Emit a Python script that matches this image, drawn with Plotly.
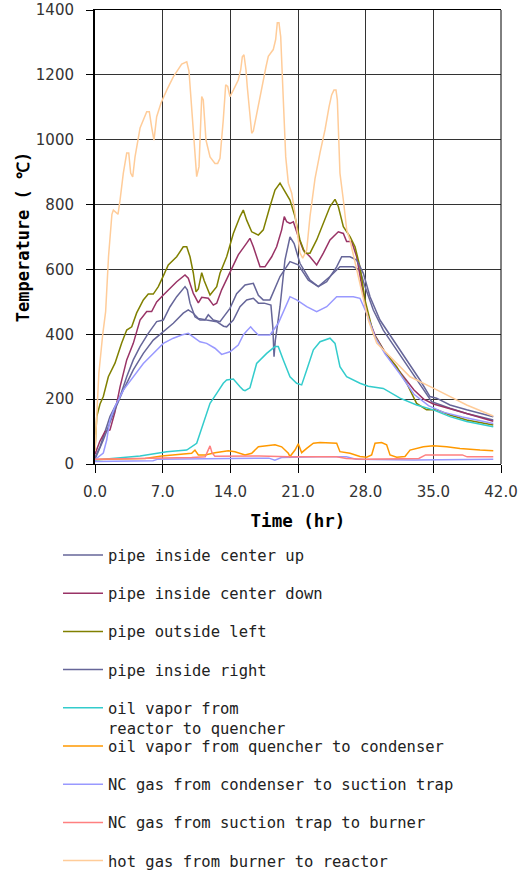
import plotly.graph_objects as go

# ---- data (time in hr, temperature in degC) ----
pipe_center_up = [(0, 20), (0.52, 53), (1.55, 146), (2.59, 208), (3.28, 269), (3.96, 321), (4.66, 362),
                  (5.51, 403), (6.38, 439), (7.07, 444), (7.76, 485), (8.45, 516), (9.31, 547), (9.55, 537),
                  (9.83, 496), (10.34, 454), (10.86, 444), (11.38, 444), (11.72, 460), (12.24, 444),
                  (12.93, 439), (13.96, 480), (14.65, 525), (15.52, 552), (16.38, 557), (16.9, 520),
                  (17.4, 506), (18.1, 506), (19.14, 578), (20.17, 624), (21.03, 614), (22.07, 567),
                  (23.1, 547), (24.31, 578), (25.34, 608), (26.72, 608), (27.41, 598), (27.93, 547),
                  (28.79, 475), (29.82, 413), (31.2, 352), (32.59, 290), (33.97, 228), (34.83, 192),
                  (36.72, 172), (38.45, 156), (41.2, 136)]

pipe_center_down = [(0, 30), (0.5, 70), (1.03, 100), (1.55, 105), (2.07, 161), (2.59, 238), (3.28, 321),
                    (3.96, 372), (4.66, 444), (5.35, 470), (5.86, 470), (6.38, 500), (7.07, 521), (7.76, 542),
                    (8.45, 562), (9.31, 583), (9.65, 573), (10.17, 526), (10.69, 497), (11.04, 514),
                    (11.72, 511), (12.24, 490), (12.59, 496), (13.1, 537), (13.96, 590), (14.82, 645),
                    (15.69, 681), (16.03, 696), (16.38, 670), (17.07, 608), (17.58, 608), (18.28, 639),
                    (18.79, 670), (19.31, 722), (19.58, 763), (19.83, 747), (20.17, 742), (20.52, 747),
                    (21.03, 701), (21.55, 660), (22.24, 639), (22.93, 614), (23.62, 650), (24.31, 691),
                    (25.17, 716), (25.69, 711), (26.03, 686), (26.55, 686), (27.07, 639), (27.59, 557),
                    (28.1, 465), (29.0, 395), (30.0, 345), (31.0, 305), (32.0, 265), (33.0, 228),
                    (34.0, 200), (35.0, 185), (37.0, 168), (39.0, 150), (41.2, 132)]

pipe_outside_left = [(0, 43), (0.18, 146), (0.52, 185), (0.86, 208), (1.38, 269), (2.07, 311), (2.76, 373),
                     (3.28, 413), (3.8, 423), (4.31, 466), (5.0, 506), (5.51, 524), (6.03, 524), (6.55, 547),
                     (7.07, 580), (7.58, 614), (8.45, 639), (9.13, 670), (9.49, 670), (9.83, 639),
                     (10.17, 589), (10.45, 531), (10.69, 540), (11.04, 590), (11.3, 565), (11.9, 521),
                     (12.59, 547), (12.93, 588), (13.62, 639), (14.31, 711), (15.0, 763), (15.34, 783),
                     (15.69, 752), (16.21, 716), (16.9, 706), (17.41, 722), (18.1, 794), (18.62, 845),
                     (19.14, 866), (19.65, 840), (20.17, 814), (20.69, 763), (21.2, 691), (21.72, 650),
                     (22.24, 650), (22.93, 691), (23.62, 742), (24.31, 794), (24.83, 816), (25.17, 794),
                     (25.69, 732), (26.38, 701), (26.9, 670), (27.41, 608), (27.93, 506), (28.79, 403),
                     (29.82, 352), (31.2, 300), (32.24, 249), (33.27, 187), (34.3, 167), (35.34, 167),
                     (36.72, 151), (38.45, 136), (41.2, 120)]

pipe_inside_right = [(0, 15), (0.86, 74), (1.9, 156), (2.93, 228), (3.96, 290), (5.0, 341), (6.03, 382),
                     (7.07, 408), (8.1, 434), (9.13, 465), (9.65, 475), (10.17, 465), (10.69, 449),
                     (11.55, 444), (12.59, 439), (13.3, 425), (13.62, 423), (14.31, 444), (15.0, 485),
                     (15.69, 506), (16.38, 511), (16.9, 496), (17.5, 496), (18.2, 490), (18.4, 420),
                     (18.52, 331), (18.65, 380), (19.14, 485), (19.65, 629), (20.17, 700), (20.6, 680),
                     (21.2, 619), (22.24, 567), (23.1, 547), (23.97, 562), (25.0, 608), (25.52, 639),
                     (26.38, 639), (27.07, 629), (27.76, 588), (28.45, 516), (29.48, 444), (30.86, 382),
                     (32.24, 321), (33.62, 259), (34.65, 208), (35.34, 203), (36.72, 182), (38.45, 167),
                     (41.2, 146)]

oil_reactor_quencher = [(0, 12), (4.66, 25), (7.42, 38), (9.49, 43), (10.52, 64), (11.2, 125), (11.9, 187),
                        (12.59, 218), (13.27, 249), (13.62, 259), (14.31, 262), (15.0, 238), (15.34, 228),
                        (15.52, 226), (16.03, 235), (16.72, 310), (17.76, 341), (18.62, 362), (18.96, 362),
                        (19.48, 321), (20.17, 269), (20.86, 249), (21.38, 244), (21.9, 290), (22.59, 352),
                        (23.28, 377), (24.31, 388), (24.83, 372), (25.34, 300), (26.03, 269), (27.41, 249),
                        (28.27, 240), (29.82, 233), (31.55, 203), (33.27, 182), (35.0, 167), (36.72, 146),
                        (38.45, 131), (41.2, 115)]

oil_quencher_condenser = [(0, 14), (5.17, 17), (6.9, 25), (8.97, 31), (10.0, 33), (10.34, 43), (10.69, 28),
                          (11.38, 28), (12.41, 35), (13.79, 41), (14.48, 38), (15.52, 28), (16.21, 33),
                          (16.9, 53), (18.62, 59), (19.31, 53), (20.0, 33), (20.17, 23), (20.69, 43),
                          (21.03, 62), (21.38, 35), (21.9, 48), (22.59, 64), (23.28, 66), (25.0, 64),
                          (25.34, 38), (26.38, 33), (27.41, 23), (28.1, 21), (28.62, 28), (28.97, 64),
                          (29.65, 66), (30.17, 59), (30.52, 28), (31.21, 21), (32.07, 23), (32.59, 43),
                          (33.97, 53), (35.0, 56), (36.38, 53), (37.76, 48), (39.83, 43), (41.2, 41)]

nc_condenser_trap = [(0, 10), (0.18, 18), (0.86, 34), (1.21, 74), (1.55, 136), (2.07, 177), (2.93, 228),
                     (3.96, 269), (5.0, 310), (6.03, 341), (7.07, 372), (8.1, 388), (8.97, 398), (9.65, 403),
                     (10.17, 393), (10.86, 377), (11.55, 372), (12.41, 357), (13.1, 338), (13.96, 346),
                     (14.82, 367), (15.34, 398), (15.69, 410), (16.1, 423), (16.38, 413), (16.9, 398),
                     (17.41, 398), (18.1, 398), (18.96, 434), (19.83, 496), (20.17, 516), (20.86, 506),
                     (21.9, 485), (22.93, 470), (23.97, 485), (25.0, 516), (26.72, 516), (27.41, 511),
                     (28.1, 465), (29.0, 390), (30.0, 340), (31.5, 280), (33.0, 215), (34.5, 180),
                     (36.0, 160), (38.0, 145), (41.2, 125)]

nc_condenser_trap_low = [(0, 8), (6.0, 10), (6.5, 15), (18.0, 18), (18.6, 12), (19.3, 20), (23.0, 22),
                         (26.0, 22), (27.0, 15), (33.0, 12), (41.2, 15)]

nc_trap_burner = [(0, 15), (5, 17), (10, 20), (11.4, 22), (11.75, 50), (11.9, 56), (12.1, 35), (12.4, 24),
                  (17, 25), (20, 22), (25, 22), (26, 17), (28, 15), (33.5, 17), (34.2, 28), (38, 28),
                  (38.5, 22), (41.2, 22)]

hot_gas = [(0, 40), (0.15, 150), (0.4, 280), (0.8, 400), (1.1, 470), (1.4, 640), (1.75, 770), (1.9, 783),
           (2.38, 770), (2.59, 814), (2.93, 897), (3.28, 959), (3.49, 959), (3.69, 897), (3.9, 885),
           (4.14, 947), (4.66, 1036), (5.35, 1086), (5.62, 1086), (5.86, 1039), (6.1, 999), (6.38, 1071),
           (6.83, 1113), (7.42, 1153), (8.1, 1194), (8.97, 1233), (9.49, 1240), (9.72, 1212), (10.1, 1061),
           (10.34, 947), (10.52, 886), (10.76, 917), (10.93, 1092), (11.04, 1133), (11.2, 1123),
           (11.48, 999), (11.9, 947), (12.41, 927), (12.69, 927), (12.93, 943), (13.27, 1061),
           (13.52, 1169), (13.73, 1164), (13.96, 1133), (14.31, 1153), (14.82, 1184), (15.07, 1215),
           (15.24, 1256), (15.41, 1262), (15.62, 1215), (15.75, 1164), (16.03, 1071), (16.21, 1020),
           (16.38, 1027), (16.73, 1083), (17.24, 1153), (17.69, 1225), (17.93, 1257), (18.44, 1278),
           (18.69, 1309), (18.86, 1361), (19.03, 1361), (19.21, 1318), (19.48, 1123), (19.73, 947),
           (20.0, 866), (20.35, 835), (20.69, 773), (21.2, 651), (21.49, 635), (21.9, 660), (22.24, 763),
           (22.76, 880), (23.28, 960), (23.79, 1030), (24.21, 1101), (24.48, 1138), (24.72, 1153),
           (24.93, 1153), (25.07, 1123), (25.17, 1020), (25.34, 897), (25.69, 814), (26.04, 722),
           (26.38, 690), (27.07, 600), (27.75, 506), (28.27, 444), (29.14, 373), (30.86, 321),
           (32.59, 269), (35.0, 234), (36.72, 207), (38.45, 182), (41.2, 148)]

x_ticks = [0, 7, 14, 21, 28, 35, 42]
y_ticks = [0, 200, 400, 600, 800, 1000, 1200, 1400]

series = [
    ("pipe inside center up", pipe_center_up, "#666699", "legend"),
    ("pipe inside center down", pipe_center_down, "#993366", "legend"),
    ("pipe outside left", pipe_outside_left, "#808000", "legend"),
    ("pipe inside right", pipe_inside_right, "#666699", "legend"),
    ("oil vapor from<br>reactor to quencher", oil_reactor_quencher, "#33CCCC", "legend"),
    ("oil vapor from quencher to condenser", oil_quencher_condenser, "#FF9900", "legend2"),
    ("NC gas from condenser to suction trap", nc_condenser_trap, "#9999FF", "legend2"),
    ("NC gas from suction trap to burner", nc_trap_burner, "#FF8080", "legend2"),
    ("hot gas from burner to reactor", hot_gas, "#FFCC99", "legend2"),
]

FONT = "DejaVu Sans"
MONO = "DejaVu Sans Mono"
L, R, T, B = 95, 501, 10, 464          # plot area in pixels
PW, PH = R - L, B - T

fig = go.Figure()

# low trace drawn in the same lavender as the NC gas series (no legend entry)
fig.add_trace(go.Scatter(x=[p[0] for p in nc_condenser_trap_low], y=[p[1] for p in nc_condenser_trap_low],
                         mode="lines", line=dict(color="#9999FF", width=1.5), showlegend=False,
                         hoverinfo="skip"))

for i, (name, pts, color, lg) in enumerate(series):
    fig.add_trace(go.Scatter(
        x=[p[0] for p in pts], y=[p[1] for p in pts], name=name, mode="lines",
        line=dict(color=color, width=1.5), legend=lg, legendgroup=f"g{i}",
    ))

legend_common = dict(
    orientation="v", xanchor="left", yanchor="top", bgcolor="rgba(0,0,0,0)",
    font=dict(family=MONO, size=15.5, color="#222"), tracegroupgap=15, valign="top",
    itemwidth=40,
)

fig.update_layout(
    width=519, height=873,
    margin=dict(l=L, r=519 - R, t=T, b=873 - B, autoexpand=False),
    paper_bgcolor="white", plot_bgcolor="white",
    font=dict(family=FONT, size=15, color="#333"),
    showlegend=True,
    legend=dict(x=(58 - L) / PW, y=(B - 538.5) / PH, **legend_common),
    legend2=dict(x=(58 - L) / PW, y=(B - 729.5) / PH, **legend_common),
    xaxis=dict(
        range=[0, 42], tickvals=x_ticks, tickformat=".1f", ticks="outside", ticklen=8,
        tickcolor="black", tickwidth=1, showgrid=True, gridcolor="#333", gridwidth=1,
        showline=True, linecolor="black", linewidth=1, mirror=True, zeroline=False,
        ticklabelstandoff=6,
        tickfont=dict(family=FONT, size=15, color="#333"),
        title=dict(text="<b>Time (hr)</b>", font=dict(family=MONO, size=17.5, color="black"), standoff=14),
    ),
    yaxis=dict(
        range=[0, 1400], tickvals=y_ticks, ticks="outside", ticklen=7, tickcolor="black",
        showgrid=True, gridcolor="#333", gridwidth=1, showline=True, linecolor="black",
        linewidth=2, zeroline=False, ticklabelstandoff=9,
        tickfont=dict(family=FONT, size=15, color="#333"),
        title=dict(text="<b>Temperature ( ℃)</b>", font=dict(family=MONO, size=17, color="black"), standoff=2),
    ),
    shapes=[dict(type="line", xref="paper", yref="paper", x0=1, x1=1, y0=0, y1=1,
                 line=dict(color="black", width=1))],
)

fig.write_html(
    "out.html",
    config={"displayModeBar": False},
    post_script="document.body.style.margin='0';document.documentElement.style.overflow='hidden';",
)
